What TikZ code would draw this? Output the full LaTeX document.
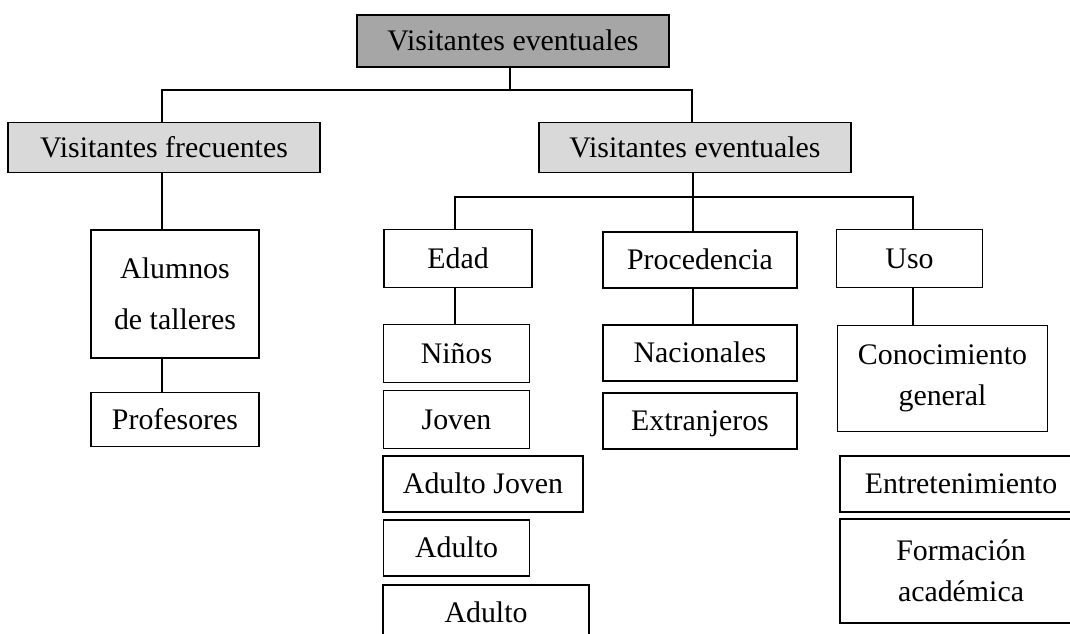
\documentclass[tikz,border=0pt]{standalone}
\usepackage{fontspec}
\setmainfont{Liberation Serif}
\usetikzlibrary{positioning}

\begin{document}
\begin{tikzpicture}[x=0.75pt,y=-0.75pt]

\tikzset{
  box/.style   = {draw, line width=0.9pt, inner sep=0pt, align=center,
                  text height=16.8pt, text depth=2.2pt,
                  font=\fontsize{22.4}{31}\selectfont},
  two/.style   = {box, text height={}, text depth={}},
  dark/.style  = {box, fill=black!35},
  light/.style = {box, fill=black!15},
  link/.style  = {line width=0.9pt},
}

\useasboundingbox (0,0) rectangle (1070,634);
\clip (0,0) rectangle (1070,634);

% level 0 and 1
\node[dark, minimum width=234pt, minimum height=39pt] (top) at (513,41) {Visitantes eventuales};
\node[light, minimum width=234pt, minimum height=38pt] (frec) at (164,147.5) {Visitantes frecuentes};
\node[light, minimum width=234pt, minimum height=38pt] (even) at (695,147.5) {Visitantes eventuales};

% frecuentes
\node[two, minimum width=126pt, minimum height=96pt, font=\fontsize{22.4}{38}\selectfont] (alum) at (175,294) {Alumnos\\de talleres};
\node[box, minimum width=126pt, minimum height=41pt] (prof) at (175,419.5) {Profesores};

% eventuales, second row
\node[box, minimum width=111pt, minimum height=43pt] (edad) at (458,258.5) {Edad};
\node[box, minimum width=145.5pt, minimum height=42pt] (proc) at (700,260) {Procedencia};
\node[box, minimum width=110pt, minimum height=43pt] (uso) at (909.5,258.5) {Uso};

% edad
\node[box, minimum width=110pt, minimum height=43pt] (nino) at (456.5,353.5) {Niños};
\node[box, minimum width=110pt, minimum height=43pt] (joven) at (456.5,419.5) {Joven};
\node[box, minimum width=150pt, minimum height=42pt] (adjov) at (483,484) {Adulto Joven};
\node[box, minimum width=110pt, minimum height=42pt] (adul) at (456.5,548) {Adulto};
\node[box, minimum width=154.5pt, minimum height=42pt] (mayor) at (486,613) {Adulto};

% procedencia
\node[box, minimum width=145.5pt, minimum height=42pt] (nac) at (700,353) {Nacionales};
\node[box, minimum width=145.5pt, minimum height=42pt] (ext) at (700,421) {Extranjeros};

% uso
\node[two, minimum width=157pt, minimum height=80pt] (conoc) at (942.5,378.5) {Conocimiento\\general};
\node[box, minimum width=181.5pt, minimum height=42pt] (entre) at (961,484) {Entretenimiento};
\node[two, minimum width=181.5pt, minimum height=78pt] (forma) at (961,571) {Formación\\académica};

% connectors
\coordinate (j0) at (510,90);
\coordinate (j1) at (693,197);
\draw[link] (top.south -| j0) -- (j0);
\draw[link] (frec.north -| 162,0) |- (j0) -| (even.north -| 692,0);
\draw[link] (frec.south -| 162,0) -- (alum.north -| 162,0);
\draw[link] (alum.south -| 162,0) -- (prof.north -| 162,0);
\draw[link] (even.south -| j1) -- (proc.north -| j1);
\draw[link] (edad.north -| 455,0) |- (j1) -| (uso.north -| 913,0);
\draw[link] (edad.south -| 455,0) -- (nino.north -| 455,0);
\draw[link] (proc.south -| j1) -- (nac.north -| j1);
\draw[link] (uso.south -| 913,0) -- (conoc.north -| 913,0);

\end{tikzpicture}
\end{document}
